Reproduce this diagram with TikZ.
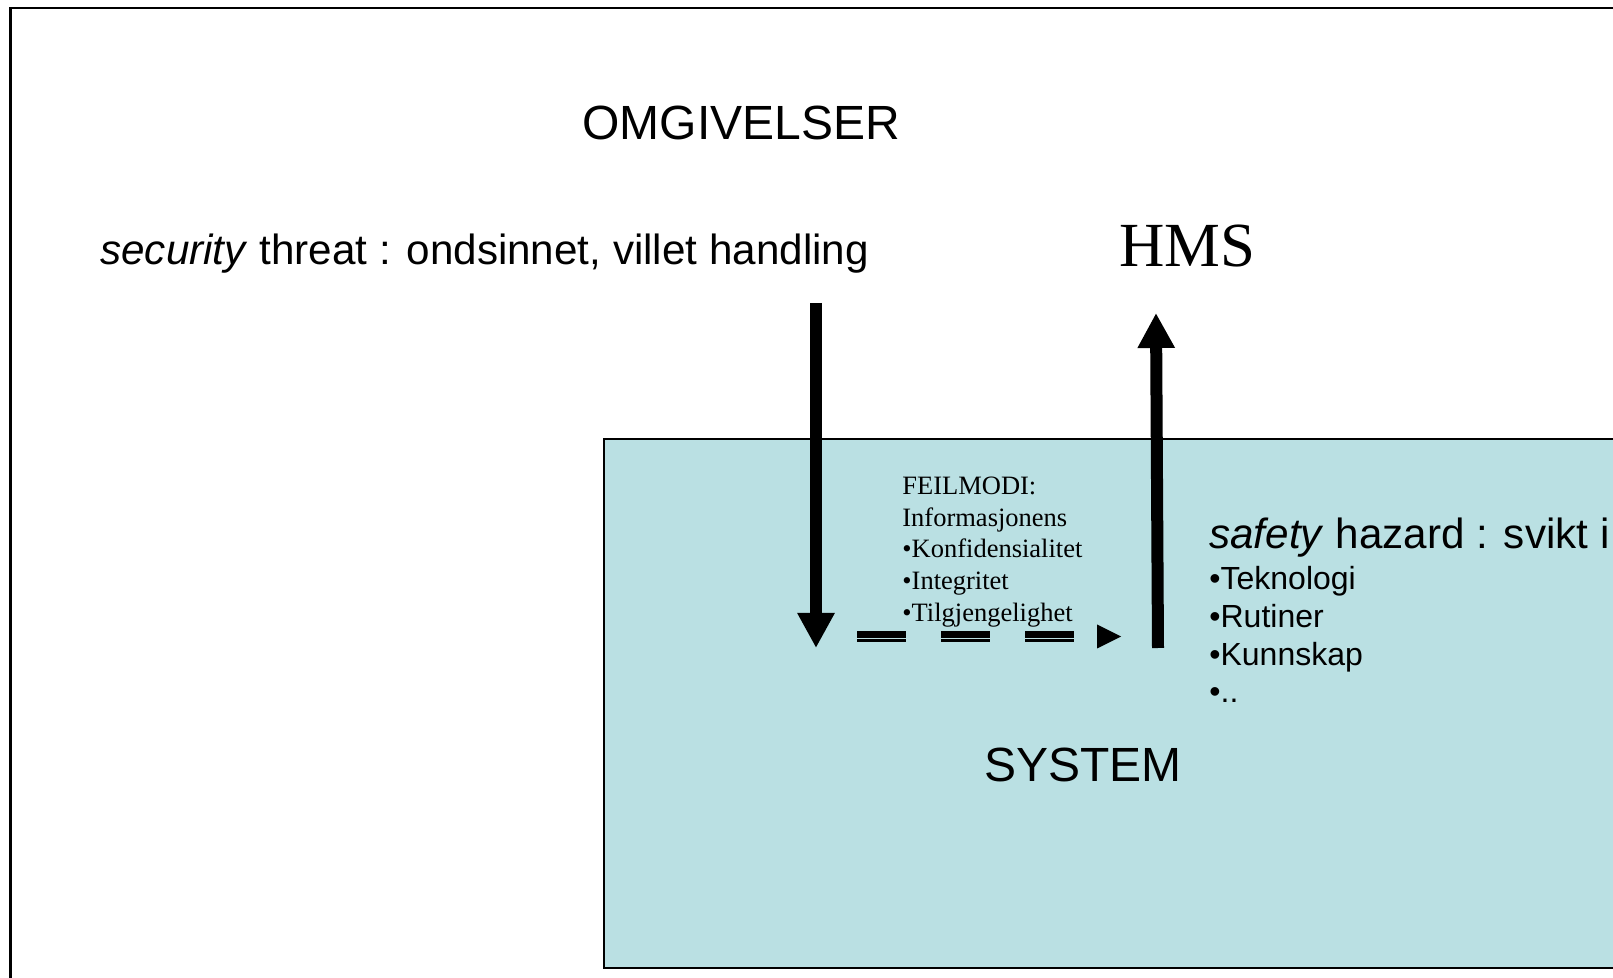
\documentclass[tikz,border=0pt]{standalone}
\usepackage{fontspec}
\setmainfont{Liberation Serif}
\newfontfamily\arialf{Liberation Sans}
\usetikzlibrary{arrows.meta}
\definecolor{sysblue}{RGB}{186,224,227}
\begin{document}
\begin{tikzpicture}[x=0.5pt,y=-0.5pt,
  lbl/.style={inner sep=0pt, anchor=base west},
  big/.style={lbl, font=\arialf\fontsize{24}{28}\selectfont},
  mid/.style={lbl, font=\arialf\fontsize{21.1}{25}\selectfont},
  small/.style={lbl, font=\arialf\fontsize{16}{19}\selectfont},
  feil/.style={lbl, font=\fontsize{13.25}{15}\selectfont},
  thickarrow/.style={line width=6pt, -{Triangle[length=17.5pt,width=17.5pt]}},
  dashpat/.style={dash pattern=on 24.25pt off 17.75pt},
]
\useasboundingbox (0,0) rectangle (1613,978);
\begin{scope}
  \clip (0,0) rectangle (1613,978);
  \draw[line width=1.25pt] (10.5,8) rectangle (1700,1100);
  \draw[line width=1pt, fill=sysblue] (604,439) rectangle (1700,968);
\end{scope}

% texts
\node[big] (omg) at (582,140) {OMGIVELSER};
\node[mid] (sec) at (100,265) {\textit{security} threat : ondsinnet, villet handling};
\node[lbl, font=\fontsize{31.4}{36}\selectfont] (hms) at (1119,267) {HMS};
\node[big] (sys) at (984,781) {SYSTEM};

\node[feil] (f1) at (902,495) {FEILMODI:};
\node[feil] (f2) at (902,526.7) {Informasjonens};
\node[feil] (f3) at (902,558) {•Konfidensialitet};
\node[feil] (f4) at (902,590) {•Integritet};
\node[feil] (f5) at (902,621.7) {•Tilgjengelighet};

\node[mid] (haz) at (1209,549) {\textit{safety} hazard : svikt i};
\node[small] (h1) at (1209,590) {•Teknologi};
\node[small] (h2) at (1209,628) {•Rutiner};
\node[small] (h3) at (1209,666) {•Kunnskap};
\node[small] (h4) at (1209,703) {•..};

% arrows
\coordinate (dtop) at (816,303);
\coordinate (dtip) at (816,648);
\draw[thickarrow] (dtop) -- (dtip);

\coordinate (ubot) at (1158,648);
\coordinate (utip) at (1156,313);
\draw[thickarrow] (ubot) -- (utip);

% dashed double connector
\coordinate (dstart) at (857,636.5);
\coordinate (dlast) at (1074,636.5);
\coordinate (dend) at (1121,636.5);
\draw[line width=3.35pt, dashpat] ([yshift=1.1pt]dstart) -- ([yshift=1.1pt]dlast);
\draw[line width=1.35pt, dashpat] ([yshift=-2.1pt]dstart) -- ([yshift=-2.1pt]dlast);
\fill (dend) -- ++(-24,-12) -- ++(0,24) -- cycle;
\end{tikzpicture}
\end{document}
